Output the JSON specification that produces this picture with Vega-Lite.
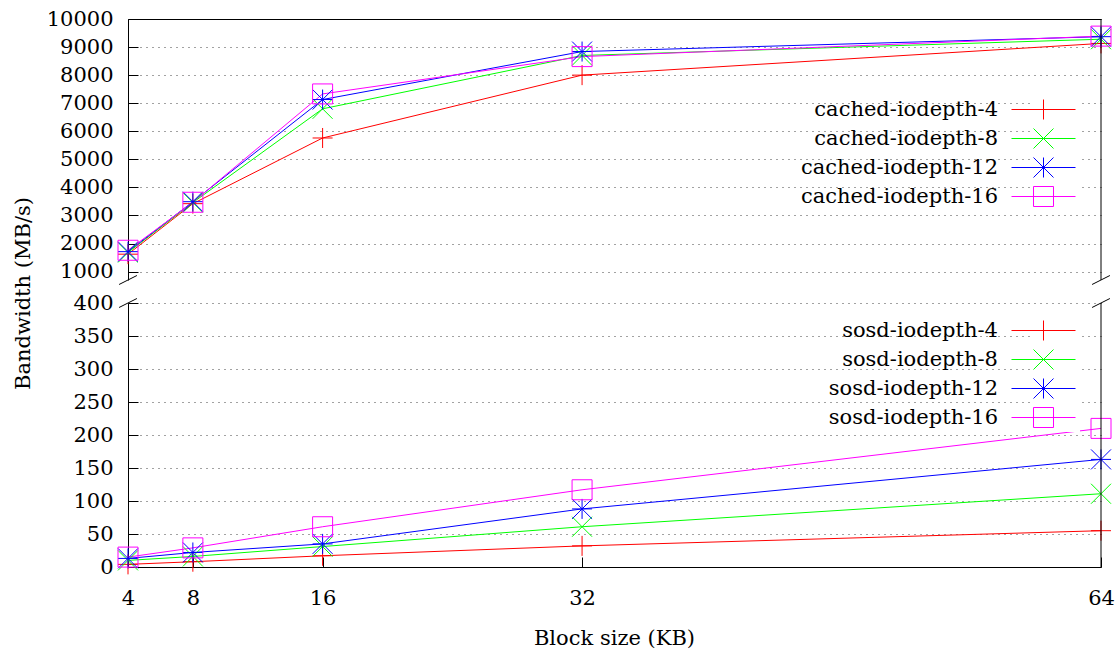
{
  "$schema": "https://vega.github.io/schema/vega-lite/v6.json",
  "autosize": {"type": "none"},
  "padding": {"left": 128, "top": 19, "right": 19, "bottom": 638},
  "background": "white",
  "bounds": "flush",
  "spacing": 23,
  "datasets": {
    "cached": [
      {"size": 4, "bw": 1620, "series": "cached-iodepth-4"},
      {"size": 8, "bw": 3420, "series": "cached-iodepth-4"},
      {"size": 16, "bw": 5760, "series": "cached-iodepth-4"},
      {"size": 32, "bw": 8000, "series": "cached-iodepth-4"},
      {"size": 64, "bw": 9130, "series": "cached-iodepth-4"},
      {"size": 4, "bw": 1680, "series": "cached-iodepth-8"},
      {"size": 8, "bw": 3460, "series": "cached-iodepth-8"},
      {"size": 16, "bw": 6800, "series": "cached-iodepth-8"},
      {"size": 32, "bw": 8700, "series": "cached-iodepth-8"},
      {"size": 64, "bw": 9280, "series": "cached-iodepth-8"},
      {"size": 4, "bw": 1710, "series": "cached-iodepth-12"},
      {"size": 8, "bw": 3490, "series": "cached-iodepth-12"},
      {"size": 16, "bw": 7130, "series": "cached-iodepth-12"},
      {"size": 32, "bw": 8840, "series": "cached-iodepth-12"},
      {"size": 64, "bw": 9370, "series": "cached-iodepth-12"},
      {"size": 4, "bw": 1760, "series": "cached-iodepth-16"},
      {"size": 8, "bw": 3470, "series": "cached-iodepth-16"},
      {"size": 16, "bw": 7330, "series": "cached-iodepth-16"},
      {"size": 32, "bw": 8660, "series": "cached-iodepth-16"},
      {"size": 64, "bw": 9390, "series": "cached-iodepth-16"}
    ],
    "sosd": [
      {"size": 4, "bw": 4, "series": "sosd-iodepth-4"},
      {"size": 8, "bw": 8, "series": "sosd-iodepth-4"},
      {"size": 16, "bw": 17, "series": "sosd-iodepth-4"},
      {"size": 32, "bw": 32, "series": "sosd-iodepth-4"},
      {"size": 64, "bw": 55, "series": "sosd-iodepth-4"},
      {"size": 4, "bw": 10, "series": "sosd-iodepth-8"},
      {"size": 8, "bw": 16, "series": "sosd-iodepth-8"},
      {"size": 16, "bw": 31, "series": "sosd-iodepth-8"},
      {"size": 32, "bw": 61, "series": "sosd-iodepth-8"},
      {"size": 64, "bw": 111, "series": "sosd-iodepth-8"},
      {"size": 4, "bw": 13, "series": "sosd-iodepth-12"},
      {"size": 8, "bw": 22, "series": "sosd-iodepth-12"},
      {"size": 16, "bw": 35, "series": "sosd-iodepth-12"},
      {"size": 32, "bw": 88, "series": "sosd-iodepth-12"},
      {"size": 64, "bw": 163, "series": "sosd-iodepth-12"},
      {"size": 4, "bw": 15, "series": "sosd-iodepth-16"},
      {"size": 8, "bw": 29, "series": "sosd-iodepth-16"},
      {"size": 16, "bw": 61, "series": "sosd-iodepth-16"},
      {"size": 32, "bw": 117, "series": "sosd-iodepth-16"},
      {"size": 64, "bw": 210, "series": "sosd-iodepth-16"}
    ]
  },
  "resolve": {"scale": {"color": "independent", "y": "independent"}, "legend": {"color": "independent"}},
  "vconcat": [
    {
      "width": 973,
      "height": 261,
      "layer": [
        {
          "data": {"name": "cached"},
          "encoding": {
            "x": {"field": "size", "type": "quantitative", "scale": {"domain": [4, 64], "nice": false, "zero": false},
              "axis": {"orient": "top", "labels": false, "ticks": false, "grid": false, "domain": true, "title": null}},
            "y": {"field": "bw", "type": "quantitative", "scale": {"domain": [700, 10000], "nice": false, "zero": false},
              "axis": {"values": [1000, 2000, 3000, 4000, 5000, 6000, 7000, 8000, 9000, 10000], "format": "d", "labelOverlap": false, "labelFlush": false,
                "title": "Bandwidth (MB/s)", "titleAngle": 270, "titleX": -105, "titleY": 274, "titleAlign": "center", "titleBaseline": "middle"}},
            "color": {"field": "series", "type": "nominal",
              "scale": {"domain": ["cached-iodepth-4", "cached-iodepth-8", "cached-iodepth-12", "cached-iodepth-16"], "range": ["#ff0000", "#00ff00", "#0000ff", "#ff00ff"]},
              "legend": {"orient": "none", "legendX": 903, "legendY": 78, "title": null, "fillColor": "white", "padding": 2,
                "labelFont": "DejaVu Serif", "labelFontSize": 21, "labelColor": "black", "labelAlign": "right", "labelOffset": -56, "labelLimit": 0,
                "symbolSize": 400, "symbolStrokeWidth": 1, "rowPadding": 4,
                "encode": {"symbols": {"update": {"fill": {"value": "transparent"}, "opacity": {"value": 1}, "strokeWidth": {"value": 1},
                  "stroke": {"signal": "indexof(datum.value,'-16')>=0 ? '#ff00ff' : indexof(datum.value,'-12')>=0 ? '#0000ff' : indexof(datum.value,'-8')>=0 ? '#00ff00' : '#ff0000'"},
                  "shape": {"signal": "indexof(datum.value,'-16')>=0 ? 'M-3.2,0H3.2M-1,-1H1V1H-1Z' : indexof(datum.value,'-12')>=0 ? 'M-3.2,0H3.2M0,-1V1M-1,-1L1,1M-1,1L1,-1' : indexof(datum.value,'-8')>=0 ? 'M-3.2,0H3.2M-1,-1L1,1M-1,1L1,-1' : 'M-3.2,0H3.2M0,-1V1'"}}}}}}
          },
          "layer": [
            {"mark": {"type": "line", "strokeWidth": 1}},
            {"transform": [{"filter": {"field": "series", "equal": "cached-iodepth-4"}}],
              "mark": {"type": "point", "shape": "M-1,0H1M0,-1V1", "filled": false, "size": 400, "strokeWidth": 1, "opacity": 1}},
            {"transform": [{"filter": {"field": "series", "equal": "cached-iodepth-8"}}],
              "mark": {"type": "point", "shape": "M-1,-1L1,1M-1,1L1,-1", "filled": false, "size": 400, "strokeWidth": 1, "opacity": 1}},
            {"transform": [{"filter": {"field": "series", "equal": "cached-iodepth-12"}}],
              "mark": {"type": "point", "shape": "M-1,0H1M0,-1V1M-1,-1L1,1M-1,1L1,-1", "filled": false, "size": 400, "strokeWidth": 1, "opacity": 1}},
            {"transform": [{"filter": {"field": "series", "equal": "cached-iodepth-16"}}],
              "mark": {"type": "point", "shape": "M-1,-1H1V1H-1Z", "filled": false, "size": 400, "strokeWidth": 1, "opacity": 1}}
          ]
        },
        {"data": {"values": [{}]}, "mark": {"type": "rule", "color": "black", "strokeWidth": 1}, "encoding": {"x": {"datum": 64}}},
        {"data": {"values": [{}]}, "mark": {"type": "rule", "color": "black", "strokeWidth": 1},
          "encoding": {"x": {"datum": 3.45}, "x2": {"datum": 4.55},
            "y": {"datum": 540, "type": "quantitative", "axis": {"values": [1000, 2000, 3000, 4000, 5000, 6000, 7000, 8000, 9000, 10000], "format": "d", "labelOverlap": false, "labelFlush": false,
                "title": "Bandwidth (MB/s)", "titleAngle": 270, "titleX": -105, "titleY": 274, "titleAlign": "center", "titleBaseline": "middle"}},
            "y2": {"datum": 860}}},
        {"data": {"values": [{}]}, "mark": {"type": "rule", "color": "black", "strokeWidth": 1},
          "encoding": {"x": {"datum": 63.45}, "x2": {"datum": 64.55},
            "y": {"datum": 540, "type": "quantitative", "axis": {"values": [1000, 2000, 3000, 4000, 5000, 6000, 7000, 8000, 9000, 10000], "format": "d", "labelOverlap": false, "labelFlush": false,
                "title": "Bandwidth (MB/s)", "titleAngle": 270, "titleX": -105, "titleY": 274, "titleAlign": "center", "titleBaseline": "middle"}},
            "y2": {"datum": 860}}}
      ]
    },
    {
      "width": 973,
      "height": 264,
      "layer": [
        {
          "data": {"name": "sosd"},
          "encoding": {
            "x": {"field": "size", "type": "quantitative", "scale": {"domain": [4, 64], "nice": false, "zero": false},
              "axis": {"orient": "bottom", "values": [4, 8, 16, 32, 64], "grid": false, "labelFlush": false, "labelOverlap": false, "labelPadding": 30,
                "title": "Block size (KB)", "titleX": 486, "titleY": 71, "titleAlign": "center", "titleBaseline": "middle"}},
            "y": {"field": "bw", "type": "quantitative", "scale": {"domain": [0, 400], "nice": false, "zero": false},
              "axis": {"values": [0, 50, 100, 150, 200, 250, 300, 350, 400], "format": "d", "labelOverlap": false, "labelFlush": false, "title": null}},
            "color": {"field": "series", "type": "nominal",
              "scale": {"domain": ["sosd-iodepth-4", "sosd-iodepth-8", "sosd-iodepth-12", "sosd-iodepth-16"], "range": ["#ff0000", "#00ff00", "#0000ff", "#ff00ff"]},
              "legend": {"orient": "none", "legendX": 903, "legendY": 15, "title": null, "fillColor": "white", "padding": 2,
                "labelFont": "DejaVu Serif", "labelFontSize": 21, "labelColor": "black", "labelAlign": "right", "labelOffset": -56, "labelLimit": 0,
                "symbolSize": 400, "symbolStrokeWidth": 1, "rowPadding": 4,
                "encode": {"symbols": {"update": {"fill": {"value": "transparent"}, "opacity": {"value": 1}, "strokeWidth": {"value": 1},
                  "stroke": {"signal": "indexof(datum.value,'-16')>=0 ? '#ff00ff' : indexof(datum.value,'-12')>=0 ? '#0000ff' : indexof(datum.value,'-8')>=0 ? '#00ff00' : '#ff0000'"},
                  "shape": {"signal": "indexof(datum.value,'-16')>=0 ? 'M-3.2,0H3.2M-1,-1H1V1H-1Z' : indexof(datum.value,'-12')>=0 ? 'M-3.2,0H3.2M0,-1V1M-1,-1L1,1M-1,1L1,-1' : indexof(datum.value,'-8')>=0 ? 'M-3.2,0H3.2M-1,-1L1,1M-1,1L1,-1' : 'M-3.2,0H3.2M0,-1V1'"}}}}}}
          },
          "layer": [
            {"mark": {"type": "line", "strokeWidth": 1}},
            {"transform": [{"filter": {"field": "series", "equal": "sosd-iodepth-4"}}],
              "mark": {"type": "point", "shape": "M-1,0H1M0,-1V1", "filled": false, "size": 400, "strokeWidth": 1, "opacity": 1}},
            {"transform": [{"filter": {"field": "series", "equal": "sosd-iodepth-8"}}],
              "mark": {"type": "point", "shape": "M-1,-1L1,1M-1,1L1,-1", "filled": false, "size": 400, "strokeWidth": 1, "opacity": 1}},
            {"transform": [{"filter": {"field": "series", "equal": "sosd-iodepth-12"}}],
              "mark": {"type": "point", "shape": "M-1,0H1M0,-1V1M-1,-1L1,1M-1,1L1,-1", "filled": false, "size": 400, "strokeWidth": 1, "opacity": 1}},
            {"transform": [{"filter": {"field": "series", "equal": "sosd-iodepth-16"}}],
              "mark": {"type": "point", "shape": "M-1,-1H1V1H-1Z", "filled": false, "size": 400, "strokeWidth": 1, "opacity": 1}}
          ]
        },
        {"data": {"values": [{}]}, "mark": {"type": "rule", "color": "black", "strokeWidth": 1}, "encoding": {"x": {"datum": 64}}},
        {"data": {"values": [{}]}, "mark": {"type": "rule", "color": "black", "strokeWidth": 1},
          "encoding": {"x": {"datum": 3.45}, "x2": {"datum": 4.55},
            "y": {"datum": 393.2, "type": "quantitative", "axis": {"values": [0, 50, 100, 150, 200, 250, 300, 350, 400], "format": "d", "labelOverlap": false, "labelFlush": false, "title": null}},
            "y2": {"datum": 406.8}}},
        {"data": {"values": [{}]}, "mark": {"type": "rule", "color": "black", "strokeWidth": 1},
          "encoding": {"x": {"datum": 63.45}, "x2": {"datum": 64.55},
            "y": {"datum": 393.2, "type": "quantitative", "axis": {"values": [0, 50, 100, 150, 200, 250, 300, 350, 400], "format": "d", "labelOverlap": false, "labelFlush": false, "title": null}},
            "y2": {"datum": 406.8}}}
      ]
    }
  ],
  "config": {
    "font": "DejaVu Serif",
    "view": {"stroke": null},
    "axis": {
      "domainColor": "black", "domainWidth": 1,
      "tickColor": "black", "tickSize": -10, "tickWidth": 1,
      "labelFont": "DejaVu Serif", "labelFontSize": 21, "labelColor": "black", "labelPadding": 25, "labelOverlap": false, "labelFlush": false,
      "titleFont": "DejaVu Serif", "titleFontSize": 21, "titleColor": "black", "titleFontWeight": "normal",
      "grid": true, "gridColor": "#444444", "gridDash": [1, 5], "gridWidth": 1, "gridOpacity": 1
    }
  }
}
